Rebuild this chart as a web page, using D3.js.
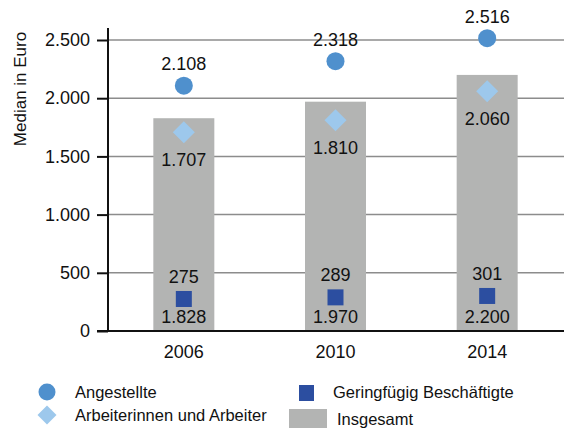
<!DOCTYPE html>
<html>
<head>
  <meta charset="utf8">
  <script src="https://d3js.org/d3.v7.min.js"></script>
  <style>
    body { margin: 0; background: #fff; }
    text { font-family: "Liberation Sans", Arial, sans-serif; fill: #111; }
  </style>
</head>
<body>
  <svg id="chart" width="584" height="430"></svg>
  <script>
    var years = ['2006', '2010', '2014'];
    var angestellte = [2108, 2318, 2516];
    var arbeiter = [1707, 1810, 2060];
    var geringfuegig = [275, 289, 301];
    var insgesamt = [1828, 1970, 2200];
    var yTicks = [0, 500, 1000, 1500, 2000, 2500];

    var fmt = function (v) { return d3.format(',')(v).replace(/,/g, '.'); };

    var svg = d3.select('#chart');
    var x = d3.scalePoint().domain(years).range([108, 563]).padding(0.5);
    var y = d3.scaleLinear().domain([0, 2500]).range([331, 40]);
    var barW = 61;
    var fs = '18px';

    // gridlines
    svg.append('g').selectAll('line')
      .data(yTicks.filter(function (d) { return d > 0; }))
      .enter().append('line')
      .attr('x1', 108).attr('x2', 564)
      .attr('y1', function (d) { return y(d); }).attr('y2', function (d) { return y(d); })
      .attr('stroke', '#8c8c8c').attr('stroke-width', 1.5);

    // bars (Insgesamt)
    svg.append('g').selectAll('rect')
      .data(years)
      .enter().append('rect')
      .attr('x', function (d) { return x(d) - barW / 2; })
      .attr('y', function (d, i) { return y(insgesamt[i]); })
      .attr('width', barW)
      .attr('height', function (d, i) { return y(0) - y(insgesamt[i]); })
      .attr('fill', '#b3b4b3');

    // y axis
    var yAxis = svg.append('g')
      .attr('transform', 'translate(108,0)')
      .call(d3.axisLeft(y).tickValues(yTicks).tickSize(11).tickPadding(7).tickFormat(fmt));
    yAxis.select('.domain').remove();
    yAxis.selectAll('.tick line').attr('stroke', '#111').attr('stroke-width', 2);
    yAxis.selectAll('text').style('font-size', fs);
    svg.append('line').attr('x1', 108).attr('x2', 108).attr('y1', 28).attr('y2', 332)
      .attr('stroke', '#111').attr('stroke-width', 2);
    svg.append('line').attr('x1', 97).attr('x2', 564).attr('y1', y(0)).attr('y2', y(0))
      .attr('stroke', '#111').attr('stroke-width', 2);

    // x labels
    svg.append('g').selectAll('text')
      .data(years).enter().append('text')
      .attr('x', function (d) { return x(d); })
      .attr('y', 358)
      .attr('text-anchor', 'middle')
      .style('font-size', fs)
      .text(function (d) { return d; });

    // y title
    svg.append('text')
      .attr('transform', 'translate(26,89) rotate(-90)')
      .attr('text-anchor', 'middle')
      .style('font-size', '17px')
      .text('Median in Euro');

    var g = svg.append('g');
    // total labels
    g.selectAll('.tot').data(years).enter().append('text')
      .attr('x', function (d) { return x(d); })
      .attr('y', y(0) - 8)
      .attr('text-anchor', 'middle').style('font-size', fs)
      .text(function (d, i) { return fmt(insgesamt[i]); });

    // squares
    g.selectAll('.sq').data(years).enter().append('rect')
      .attr('x', function (d) { return x(d) - 8; })
      .attr('y', function (d, i) { return y(geringfuegig[i]) - 8; })
      .attr('width', 16).attr('height', 16)
      .attr('fill', '#2c4ea0');
    g.selectAll('.sqt').data(years).enter().append('text')
      .attr('x', function (d) { return x(d); })
      .attr('y', function (d, i) { return y(geringfuegig[i]) - 16; })
      .attr('text-anchor', 'middle').style('font-size', fs)
      .text(function (d, i) { return fmt(geringfuegig[i]); });

    // diamonds
    var diamond = d3.symbol().type(d3.symbolSquare).size(242);
    g.selectAll('.di').data(years).enter().append('path')
      .attr('d', diamond)
      .attr('transform', function (d, i) { return 'translate(' + x(d) + ',' + y(arbeiter[i]) + ') rotate(45)'; })
      .attr('fill', '#9dc8ec');
    g.selectAll('.dit').data(years).enter().append('text')
      .attr('x', function (d) { return x(d); })
      .attr('y', function (d, i) { return y(arbeiter[i]) + 34; })
      .attr('text-anchor', 'middle').style('font-size', fs)
      .text(function (d, i) { return fmt(arbeiter[i]); });

    // circles
    g.selectAll('circle').data(years).enter().append('circle')
      .attr('cx', function (d) { return x(d); })
      .attr('cy', function (d, i) { return y(angestellte[i]); })
      .attr('r', 9)
      .attr('fill', '#4f90cd');
    g.selectAll('.ct').data(years).enter().append('text')
      .attr('x', function (d) { return x(d); })
      .attr('y', function (d, i) { return y(angestellte[i]) - 15.5; })
      .attr('text-anchor', 'middle').style('font-size', fs)
      .text(function (d, i) { return fmt(angestellte[i]); });

    // legend
    var lg = svg.append('g').style('font-size', '16.5px');
    lg.append('circle').attr('cx', 47).attr('cy', 392).attr('r', 8.5).attr('fill', '#4f90cd');
    lg.append('text').attr('x', 75).attr('y', 398).text('Angestellte');
    lg.append('path').attr('d', d3.symbol().type(d3.symbolSquare).size(180))
      .attr('transform', 'translate(47,415) rotate(45)').attr('fill', '#9dc8ec');
    lg.append('text').attr('x', 75).attr('y', 421).text('Arbeiterinnen und Arbeiter');
    lg.append('rect').attr('x', 299).attr('y', 385).attr('width', 15).attr('height', 16).attr('fill', '#2c4ea0');
    lg.append('text').attr('x', 333).attr('y', 398).text('Geringfügig Beschäftigte');
    lg.append('rect').attr('x', 289).attr('y', 409).attr('width', 38).attr('height', 19).attr('fill', '#b3b4b3');
    lg.append('text').attr('x', 337).attr('y', 425).text('Insgesamt');
  </script>
</body>
</html>
